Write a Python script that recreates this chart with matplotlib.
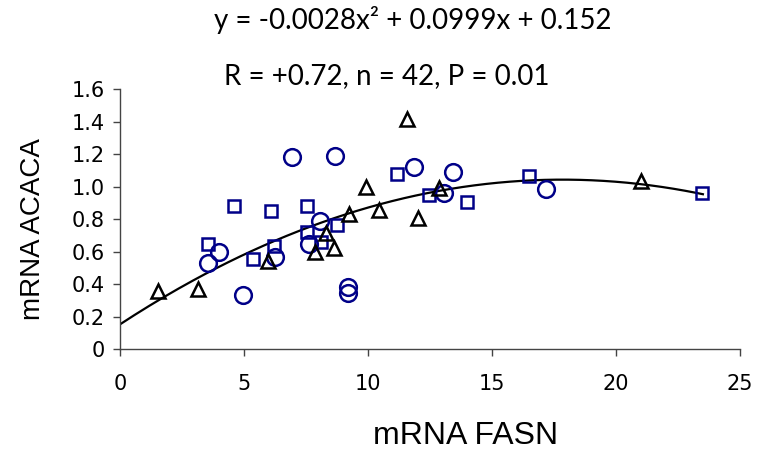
import numpy as np
import matplotlib
matplotlib.use('Agg')
import matplotlib.pyplot as plt

# circles (blue)
circ_x = [6.94, 8.67, 11.85, 4.00, 3.55, 4.96, 6.27, 7.63, 8.08, 9.19, 9.19, 13.41, 13.05, 17.18]
circ_y = [1.18, 1.19, 1.12, 0.60, 0.53, 0.334, 0.57, 0.648, 0.79, 0.38, 0.345, 1.093, 0.96, 0.987]
# squares (blue)
sq_x = [4.61, 6.08, 7.56, 3.56, 5.38, 6.23, 7.56, 8.09, 8.75, 11.19, 12.48, 13.99, 16.5, 23.47]
sq_y = [0.882, 0.853, 0.882, 0.646, 0.554, 0.636, 0.724, 0.658, 0.763, 1.077, 0.95, 0.907, 1.063, 0.96]
# triangles (black)
tri_x = [1.52, 3.16, 5.96, 7.86, 8.31, 8.64, 9.24, 9.93, 10.46, 11.57, 12.02, 12.87, 21.0]
tri_y = [0.355, 0.37, 0.54, 0.595, 0.714, 0.62, 0.83, 1.00, 0.857, 1.417, 0.806, 0.99, 1.032]

# quadratic trend line from the equation in the title
coef = [-0.0028, 0.0999, 0.152]
fit_range = (0, 23.5)

eq_text = 'y = -0.0028x\u00b2 + 0.0999x + 0.152'
stat_text = 'R = +0.72, n = 42, P = 0.01'

navy = '#000088'

fig = plt.figure(figsize=(7.63, 4.5), dpi=100)
ax = fig.add_axes([0.157, 0.224, 0.813, 0.578])

xs = np.linspace(fit_range[0], fit_range[1], 200)
ax.plot(xs, np.polyval(coef, xs), color='black', lw=1.6, zorder=2)

ax.plot(circ_x, circ_y, 'o', ms=12, mfc='none', mec=navy, mew=1.8, zorder=3)
ax.plot(sq_x, sq_y, 's', ms=8.5, mfc='none', mec=navy, mew=1.8, zorder=3)
ax.plot(tri_x, tri_y, '^', ms=10, mfc='none', mec='black', mew=1.8, zorder=3)

ax.set_xlim(0, 25)
ax.set_ylim(0, 1.6)
ax.set_xticks(range(0, 26, 5))
ax.set_xticklabels([str(v) for v in range(0, 26, 5)])
ax.set_yticks(np.arange(0, 1.61, 0.2))
ax.set_yticklabels(['0'] + ['%.1f' % v for v in np.arange(0.2, 1.61, 0.2)])

for s in ['top', 'right']:
    ax.spines[s].set_visible(False)
for s in ['left', 'bottom']:
    ax.spines[s].set_color('#444444')
    ax.spines[s].set_linewidth(1)

tickfont = ['Liberation Sans Narrow', 'DejaVu Sans']
ax.tick_params(axis='both', direction='out', length=5, width=1, color='#444444', labelsize=15, pad=6)
ax.tick_params(axis='x', pad=13)
for lab in ax.get_xticklabels() + ax.get_yticklabels():
    lab.set_family(tickfont)

ax.set_xlabel('mRNA FASN', fontsize=23, family=['Liberation Sans', 'DejaVu Sans'])
ax.xaxis.set_label_coords(0.558, -0.335)
ax.xaxis.label.set_va('center')
ax.set_ylabel('mRNA ACACA', fontsize=20, family=['Liberation Sans', 'DejaVu Sans'])
ax.yaxis.set_label_coords(-0.14, 0.46)
ax.yaxis.label.set_va('center')

fig.text(413 / 763, 1 - 20 / 450, eq_text, ha='center', va='center', fontsize=20,
         family=['Lato', 'DejaVu Sans'])
fig.text(387 / 763, 1 - 76 / 450, stat_text, ha='center', va='center', fontsize=20,
         family=['Lato', 'DejaVu Sans'])

fig.savefig('out.png', dpi=100)
